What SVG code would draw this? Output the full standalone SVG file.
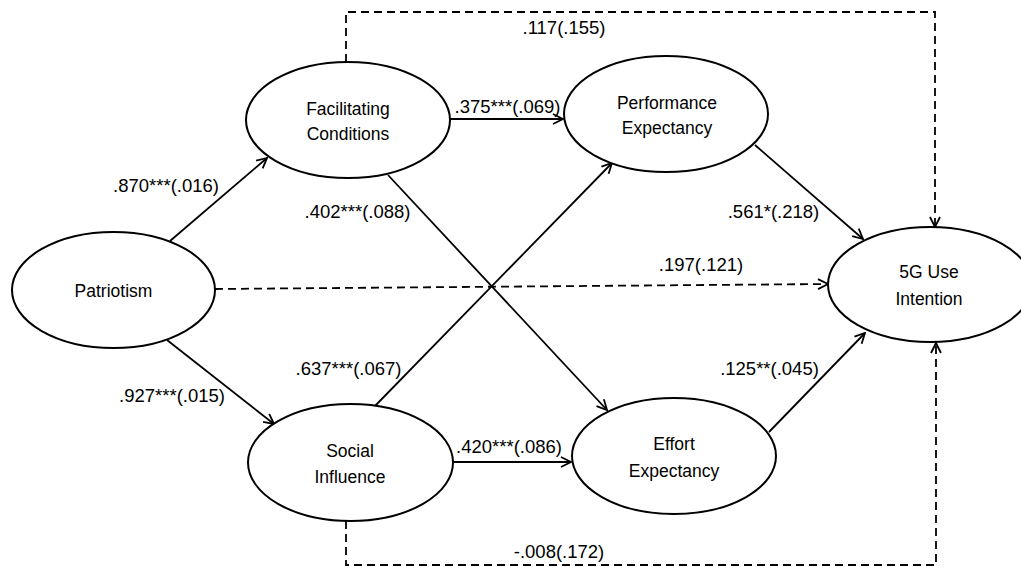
<svg xmlns="http://www.w3.org/2000/svg" width="1021" height="567" viewBox="0 0 1021 567">
<style>
.node ellipse{fill:#fff;stroke:#000;stroke-width:2}
.node text{font-family:"Liberation Sans",Arial,sans-serif;font-size:17.5px;fill:#000;text-anchor:middle}
.edge{fill:none;stroke:#000;stroke-width:1.8}
.dash{stroke-dasharray:8 5}
.lbl{font-family:"Liberation Sans",Arial,sans-serif;font-size:18.5px;fill:#000;text-anchor:middle}
</style>
<defs>
<marker id="arr" viewBox="0 0 12 12" refX="11" refY="6" markerWidth="12" markerHeight="12" orient="auto" markerUnits="userSpaceOnUse">
<path d="M1,1 L11,6 L1,11" fill="none" stroke="#000" stroke-width="1.8"/>
</marker>
</defs>
<rect width="1021" height="567" fill="#fff"/>
<g id="connectors">
<line class="edge" x1="170" y1="241" x2="267" y2="158" marker-end="url(#arr)"/>
<line class="edge" x1="167" y1="340" x2="274" y2="424" marker-end="url(#arr)"/>
<line class="edge" x1="450" y1="119" x2="563" y2="119" marker-end="url(#arr)"/>
<line class="edge" x1="388" y1="175" x2="607" y2="410" marker-end="url(#arr)"/>
<line class="edge" x1="375" y1="406" x2="612" y2="163" marker-end="url(#arr)"/>
<line class="edge" x1="453" y1="462" x2="571" y2="462" marker-end="url(#arr)"/>
<line class="edge" x1="755" y1="145" x2="863" y2="239" marker-end="url(#arr)"/>
<line class="edge" x1="769" y1="432" x2="865" y2="333" marker-end="url(#arr)"/>
<line class="edge dash" x1="215" y1="289" x2="828" y2="284" marker-end="url(#arr)"/>
<path class="edge dash" d="M346,62 V12 H935 V227" marker-end="url(#arr)"/>
<path class="edge dash" d="M346,521 V565 H936 V343" marker-end="url(#arr)"/>
<text class="lbl" x="166" y="192">.870***(.016)</text>
<text class="lbl" x="172" y="402">.927***(.015)</text>
<text class="lbl" x="507.5" y="113">.375***(.069)</text>
<text class="lbl" x="357.5" y="218">.402***(.088)</text>
<text class="lbl" x="348.5" y="375">.637***(.067)</text>
<text class="lbl" x="509" y="453">.420***(.086)</text>
<text class="lbl" x="773.5" y="218">.561*(.218)</text>
<text class="lbl" x="769.5" y="375">.125**(.045)</text>
<text class="lbl" x="701" y="271">.197(.121)</text>
<text class="lbl" x="564" y="34">.117(.155)</text>
<text class="lbl" x="559" y="558">-.008(.172)</text>
</g>
<g id="patriotism" class="node">
<ellipse cx="113.5" cy="290" rx="101.5" ry="58"/>
<text x="113.5" y="297">Patriotism</text>
</g>
<g id="facilitating-conditions" class="node">
<ellipse cx="348" cy="120" rx="102" ry="58"/>
<text x="348" y="115">Facilitating</text>
<text x="348" y="140">Conditions</text>
</g>
<g id="performance-expectancy" class="node">
<ellipse cx="666" cy="114" rx="102" ry="58"/>
<text x="667" y="108.5">Performance</text>
<text x="667" y="133.5">Expectancy</text>
</g>
<g id="use-intention" class="node">
<ellipse cx="930" cy="284.5" rx="102" ry="57.5"/>
<text x="929" y="278">5G Use</text>
<text x="929" y="305">Intention</text>
</g>
<g id="social-influence" class="node">
<ellipse cx="350.5" cy="462.5" rx="102.5" ry="58.5"/>
<text x="350" y="457">Social</text>
<text x="350" y="483">Influence</text>
</g>
<g id="effort-expectancy" class="node">
<ellipse cx="674" cy="456" rx="102" ry="58"/>
<text x="674" y="450">Effort</text>
<text x="674" y="477">Expectancy</text>
</g>
</svg>
